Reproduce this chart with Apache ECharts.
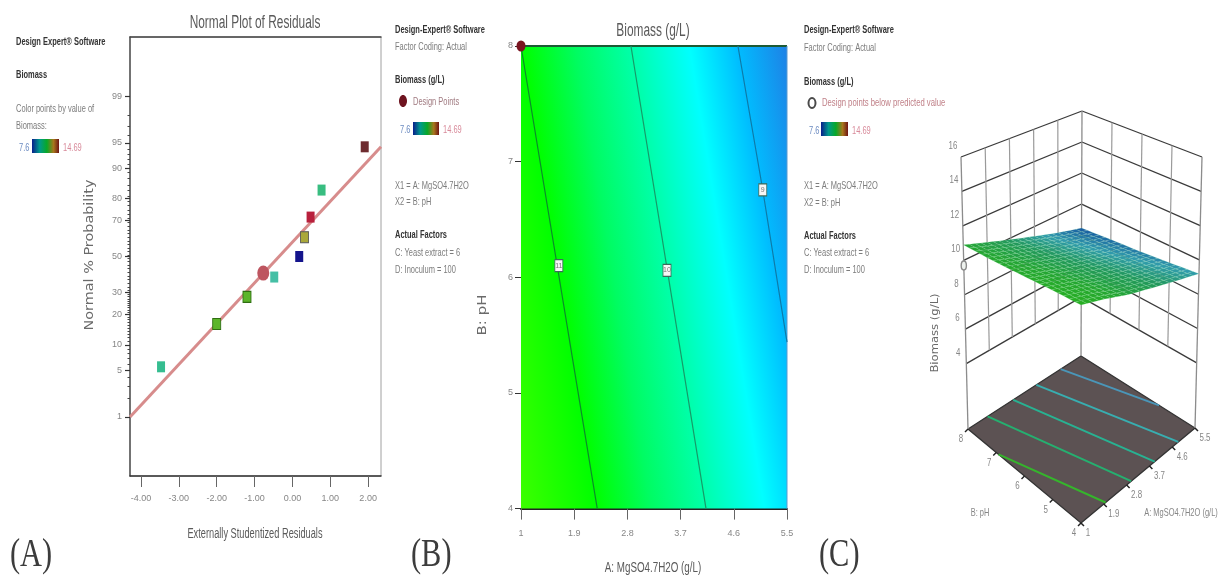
<!DOCTYPE html>
<html><head><meta charset="utf-8">
<style>html,body{margin:0;padding:0;background:#fff}#c{width:1221px;height:581px}</style>
<script src="https://cdn.jsdelivr.net/npm/echarts@6/dist/echarts.min.js"></script>
</head><body><div id="c"></div>
<script>
// ---------- Panel A data ----------
const residuals   = [-3.47, -2.00, -1.20, -0.77, -0.48, 0.18, 0.32, 0.48, 0.77, 1.91];
const probability = [5.5, 16.4, 27.9, 40.5, 38.3, 50, 61, 71.6, 83.2, 94.4];
const residualColors = ['#35bd90','#5cb52a','#5cb52a','#be5560','#45bfa5','#14148c','#aaa83a','#b8203c','#38bd80','#6e2c30'];
const fitResiduals = [-4.29, 2.34];
const fitProbability = [1, 94.4];
const xTicksA = [-4, -3, -2, -1, 0, 1, 2];
const probTicks = [1, 5, 10, 20, 30, 50, 70, 80, 90, 95, 99];
const probMinor = [2,3,4,6,7,8,9,11,12,13,14,15,16,17,18,19,21,22,23,24,25,26,27,28,29,31,33,35,37,39,41,43,45,47,49,51,53,55,57,59,61,63,65,67,69,71,73,75,77,79,81,83,85,87,89,91,92,93,94,96,97,98];
// ---------- Panel B data ----------
const xTicksB = [1, 1.9, 2.8, 3.7, 4.6, 5.5];
const yTicksB = [4, 5, 6, 7, 8];
const contourB1 = [[1, 8], [2.29, 4]];
const contourB2 = [[2.86, 8], [4.13, 4]];
const contourB3 = [[4.67, 8], [5.09, 6.755], [5.5, 5.44]];
const contourMarks = [[1.64, 6.1, 11], [3.47, 6.06, 10], [5.09, 6.755, 9]];
const designPointB = [[1, 8]];
const fillAtPH4 = [1, 2.29, 3.2, 4.13, 5.12, 5.9, 6.76];
const fillColors = ['#3cff00','#00ff00','#00fc62','#00ffaa','#00ffff','#00beff','#1e82e6'];
// ---------- Panel C data ----------
const surfA = [1, 1.9, 2.8, 3.7, 4.6, 5.5];
const surfPH = [4, 5, 6, 7, 8];
const surfZ = [
  [11.8, 11.3, 10.7, 10.2, 9.7, 9.2],
  [11.6, 11.1, 10.5, 10.0, 9.5, 9.0],
  [11.35, 10.85, 10.3, 9.8, 9.3, 8.8],
  [11.1, 10.6, 10.1, 9.6, 9.1, 8.65],
  [10.9, 10.4, 9.9, 9.4, 8.9, 8.45]
];
const zTicksC = [4, 6, 8, 10, 12, 14, 16];
const floorContours = [
  [[1, 6.92], [1.97, 4]], [[1.78, 8], [2.98, 4]], [[2.8, 8], [3.91, 4]],
  [[3.72, 8], [4.84, 4]], [[4.69, 8], [5.5, 5.26]]
];
const floorContourColors = ['#35b52c','#25b070','#28b292','#38aeb0','#4a96b8'];
const designPointC = [1, 8, 9.7];

// ---------- Text ----------
const sans = '"Liberation Sans",Arial,sans-serif';
const dejavu = '"DejaVu Sans",sans-serif';
const serif = '"Liberation Serif",serif';
const infoX1 = 'X1 = A: MgSO4.7H2O', infoX2 = 'X2 = B: pH';
const hdr = 'Design-Expert® Software', coding = 'Factor Coding: Actual';
const gray = '#7c7c7c', dark = '#333';
function T(x, y, text, o) {
  o = o || {};
  return {type:'text', x, y, silent:true, z:20, scaleX:o.sx||0.68, scaleY:1, rotation:o.rot||0,
    style:{text, fill:o.fill||gray, align:o.align||'left', verticalAlign:'middle',
    font:(o.bold?'bold ':'')+(o.size||11)+'px '+(o.family||sans)}};
}
const B = (x,y,t)=>T(x,y,t,{bold:true,fill:dark,size:11,sx:0.68});
function colorbar(x,y,w,h){
  return {type:'rect', silent:true, z:20, shape:{x,y,width:w,height:h}, style:{fill:{type:'linear',x:0,y:0,x2:1,y2:0,colorStops:[
    {offset:0,color:'#0a1e8c'},{offset:.28,color:'#009a8c'},{offset:.55,color:'#08a828'},{offset:.8,color:'#a8761c'},{offset:1,color:'#6e1414'}]}}};
}
const titleStyle = {size:18,sx:0.66,fill:'#5a5a5a',align:'center'};
const graphicEls = [
  T(255,23,'Normal Plot of Residuals',titleStyle),
  T(653,31,'Biomass (g/L)',titleStyle),
  T(255,534,'Externally Studentized Residuals',{size:14,sx:0.66,fill:'#5a5a5a',align:'center'}),
  T(653,568,'A: MgSO4.7H2O (g/L)',{size:14,sx:0.7,fill:'#5a5a5a',align:'center'}),
  T(90,255,'Normal % Probability',{size:12,sx:1.2,fill:'#6a6a6a',align:'center',family:dejavu,rot:Math.PI/2}),
  T(483,315,'B: pH',{size:12,sx:1.25,fill:'#6a6a6a',align:'center',family:dejavu,rot:Math.PI/2}),
  T(935,333,'Biomass (g/L)',{size:10,sx:1.16,fill:'#6a6a6a',align:'center',family:dejavu,rot:Math.PI/2}),
  T(980,513,'B: pH',{align:'center',fill:'#868686'}),
  T(1181,513,'A: MgSO4.7H2O (g/L)',{align:'center',fill:'#868686'}),

  B(16,42,'Design Expert® Software'), B(16,75,'Biomass'),
  T(16,109,'Color points by value of'), T(16,126,'Biomass:'),
  T(19,148,'7.6',{fill:'#6a8ac0'}), colorbar(32,139,27,14), T(63,148,'14.69',{fill:'#d88a9a'}),

  B(395,30,hdr), T(395,47,coding), B(395,80,'Biomass (g/L)'),
  {type:'ellipse',silent:true,z:20,shape:{cx:403,cy:101,rx:4,ry:6},style:{fill:'#6e1420'}},
  T(413,102,'Design Points',{fill:'#a07a80'}),
  T(400,130,'7.6',{fill:'#6a8ac0'}), colorbar(413,122,26,13), T(443,130,'14.69',{fill:'#d88a9a'}),
  T(395,186,infoX1), T(395,202,infoX2), B(395,235,'Actual Factors'),
  T(395,253,'C: Yeast extract = 6'), T(395,270,'D: Inoculum = 100'),

  B(804,30,hdr), T(804,48,coding), B(804,82,'Biomass (g/L)'),
  {type:'ellipse',silent:true,z:20,shape:{cx:812,cy:103,rx:3.5,ry:5},style:{fill:'#fff',stroke:'#4a4a4a',lineWidth:2}},
  T(822,103,'Design points below predicted value',{fill:'#c08088',sx:0.7}),
  T(809,131,'7.6',{fill:'#6a8ac0'}), colorbar(821,122,27,14), T(852,131,'14.69',{fill:'#d88a9a'}),
  T(804,186,infoX1), T(804,203,infoX2), B(804,236,'Actual Factors'),
  T(804,253,'C: Yeast extract = 6'), T(804,270,'D: Inoculum = 100'),

  T(10,555,'(A)',{size:40,fill:'#3c3c3c',family:serif,sx:0.76}),
  T(411,555,'(B)',{size:40,fill:'#3c3c3c',family:serif,sx:0.76}),
  T(819,555,'(C)',{size:40,fill:'#3c3c3c',family:serif,sx:0.76}),
];

// ---------- Scales ----------
function probit(p){ // normal quantile of a percentage
  const x = 2*p/100-1, a = 0.147, l = Math.log(1-x*x), t = 2/(Math.PI*a)+l/2;
  return Math.SQRT2*Math.sign(x)*Math.sqrt(Math.sqrt(t*t-l/a)-t);
}
const zLim = 3.18;
// 3D view: bilinear between floor and top rhombi (view units of the hidden grid)
const zFloor = 0.2, zTop = 16;
const view = {
  floor:{F:[151,433],L:[38,339],R:[265,338],B:[151,266]},
  top:{F:[151,136],L:[31,67],R:[272,67],B:[152,21]}
};
function project(a,p,z){
  const u=(a-1)/4.5, v=(p-4)/4, w=(z-zFloor)/(zTop-zFloor);
  const bl=(q,i)=>(1-u)*(1-v)*q.F[i]+u*(1-v)*q.R[i]+(1-u)*v*q.L[i]+u*v*q.B[i];
  return [0,1].map(i=>bl(view.floor,i)*(1-w)+bl(view.top,i)*w);
}
function mix(c1,c2,t){return c1.map((c,i)=>Math.round(c+(c2[i]-c)*t));}
const zCols=[[8.45,[22,88,160]],[9.2,[48,155,172]],[10,[34,152,92]],[10.9,[36,165,50]],[11.8,[40,175,34]]];
function zColor(z){
  for(let i=1;i<zCols.length;i++) if(z<=zCols[i][0]){
    const t=Math.max(0,(z-zCols[i-1][0])/(zCols[i][0]-zCols[i-1][0]));
    return 'rgb('+mix(zCols[i-1][1],zCols[i][1],t).join(',')+')';
  }
  return 'rgb('+zCols[4][1].join(',')+')';
}
// wall lines
const wallLines=[];
zTicksC.forEach(z=>{
  wallLines.push({a:[1,8,z],b:[5.5,8,z],c:'#3a3a3a',w:1.3});
  wallLines.push({a:[5.5,8,z],b:[5.5,4,z],c:'#3a3a3a',w:1.3});
});
surfA.slice(1,-1).forEach(a=>wallLines.push({a:[a,8,4],b:[a,8,16],c:'#9a9a9a',w:1.2}));
[5,6,7].forEach(p=>wallLines.push({a:[5.5,p,4],b:[5.5,p,16],c:'#9a9a9a',w:1.2}));
[[1,8],[5.5,8],[5.5,4]].forEach(q=>wallLines.push({a:[q[0],q[1],zFloor],b:[q[0],q[1],16],c:'#8c8c8c',w:1.3}));
// surface cells
const cells=[];
surfPH.slice(0,-1).forEach((p,j)=>surfA.slice(0,-1).forEach((a,i)=>cells.push([i,j])));
const subA=4, subP=5;
// 3D text labels
const labels3D=[];
zTicksC.forEach(z=>labels3D.push({t:String(z),q:[1,8,z],dx:-8,dy:-11}));
[8,7,6,5,4].forEach(p=>labels3D.push({t:String(p),q:[1,p,zFloor],dx:-7,dy:10}));
xTicksB.forEach(a=>labels3D.push({t:String(a),q:[a,4,zFloor],dx:a===1?7:10,dy:10}));

const rowItems=list=>list.map((_,i)=>[i,0]);
function xy(api,q){const v=project(q[0],q[1],q[2]);return api.coord(v);}
const hiddenAxis=(min,max,idx,inv)=>({gridIndex:idx,type:'value',min,max,inverse:!!inv,show:false,splitLine:{show:false}});
const axisText={color:'#868686',fontFamily:sans,fontSize:9};

const option={
  animation:false,
  backgroundColor:'#fff',
  graphic:{elements:graphicEls},
  grid:[
    {left:130,top:37,width:251,height:439,show:true,borderColor:'#a0a0a0',borderWidth:1,backgroundColor:'#fff'},
    {left:521,top:46,width:266,height:462.6},
    {left:930,top:90,width:290,height:450}
  ],
  xAxis:[
    {gridIndex:0,type:'value',min:-4.29,max:2.34,splitLine:{show:false},
     axisLine:{onZero:false,lineStyle:{color:'#333',width:1.5}},
     axisTick:{length:11,lineStyle:{color:'#666'},customValues:xTicksA},
     axisLabel:{...axisText,margin:18,hideOverlap:false,customValues:xTicksA,formatter:v=>v.toFixed(2)}},
    {gridIndex:0,type:'value',position:'top',min:-4.29,max:2.34,splitLine:{show:false},
     axisLine:{onZero:false,lineStyle:{color:'#444',width:1.5}},axisTick:{show:false},axisLabel:{show:false}},
    {gridIndex:1,type:'value',min:1,max:5.5,splitLine:{show:false},
     axisLine:{onZero:false,lineStyle:{color:'#222',width:2}},
     axisTick:{length:11,lineStyle:{color:'#666'},customValues:xTicksB},
     axisLabel:{...axisText,margin:20,hideOverlap:false,customValues:xTicksB,formatter:v=>String(v)}},
    hiddenAxis(0,290,2)
  ],
  yAxis:[
    {gridIndex:0,type:'value',position:'left',min:-zLim,max:zLim,splitLine:{show:false},
     axisLine:{onZero:false,lineStyle:{color:'#555',width:1.5}},
     axisTick:{length:5,lineStyle:{color:'#333',width:1.2},customValues:probTicks.map(probit)},
     axisLabel:{...axisText,margin:8,hideOverlap:false,customValues:probTicks.map(probit),
       formatter:v=>String(probTicks.reduce((b,p)=>Math.abs(probit(p)-v)<Math.abs(probit(b)-v)?p:b,50))}},
    {gridIndex:0,type:'value',position:'left',min:-zLim,max:zLim,splitLine:{show:false},
     axisLine:{show:false,onZero:false},axisLabel:{show:false},
     axisTick:{length:2.5,lineStyle:{color:'#444'},customValues:probMinor.map(probit)}},
    {gridIndex:1,type:'value',min:4,max:8,splitLine:{show:false},
     axisLine:{onZero:false,lineStyle:{color:'#7fd07f',width:1}},
     axisTick:{length:6,lineStyle:{color:'#333'},customValues:yTicksB},
     axisLabel:{...axisText,margin:8,padding:[0,0,8,0],hideOverlap:false,customValues:yTicksB,formatter:v=>String(v)}},
    hiddenAxis(0,450,2,true)
  ],
  series:[
    // ---- A ----
    {type:'line',xAxisIndex:0,yAxisIndex:0,silent:true,symbol:'none',z:3,
     data:fitResiduals.map((x,i)=>[x,probit(fitProbability[i])]),
     lineStyle:{color:'#d78c8c',width:3}},
    {type:'scatter',xAxisIndex:0,yAxisIndex:0,silent:true,z:4,
     data:residuals.map((x,i)=>({value:[x,probit(probability[i])],
       symbolSize:i===3?[12,15]:[8,11],symbol:i===3?'circle':'rect',
       itemStyle:{color:residualColors[i],opacity:1,borderColor:(i===1||i===2)?'#2f6e12':(i===6?'#555':'rgba(0,0,0,0)'),borderWidth:1}}))},
    // ---- B ----
    {type:'custom',xAxisIndex:2,yAxisIndex:2,silent:true,z:1,clip:false,data:[[1,4]],
     renderItem(params,api){
       const tl=api.coord([1,8]),br=api.coord([5.5,4]);
       const s=api.coord([fillAtPH4[0],4]),e=api.coord([fillAtPH4[fillAtPH4.length-1],4]);
       const c0=api.coord(contourB2[0]),c1=api.coord(contourB2[1]);
       let nx=c1[1]-c0[1],ny=-(c1[0]-c0[0]);const len=Math.hypot(nx,ny);nx/=len;ny/=len;
       const L=(e[0]-s[0])*nx+(e[1]-s[1])*ny;
       const span=fillAtPH4[fillAtPH4.length-1]-fillAtPH4[0];
       return {type:'rect',shape:{x:tl[0],y:tl[1],width:br[0]-tl[0],height:br[1]-tl[1]},style:{
         fill:{type:'linear',global:true,x:s[0],y:s[1],x2:s[0]+nx*L,y2:s[1]+ny*L,
           colorStops:fillAtPH4.map((a,i)=>({offset:(a-fillAtPH4[0])/span,color:fillColors[i]}))},
       }};
     }},
    {type:'line',xAxisIndex:2,yAxisIndex:2,silent:true,symbol:'none',z:3,data:[[1,8],[5.5,8]],lineStyle:{color:'#1c5a34',width:2}},
    {type:'line',xAxisIndex:2,yAxisIndex:2,silent:true,symbol:'none',z:3,data:[[5.5,8],[5.5,4]],lineStyle:{color:'#5a9ad0',width:1}},
    ...[[contourB1,'#0b8c2a'],[contourB2,'#169a68'],[contourB3,'#0e7aa8']].map(c=>(
      {type:'line',xAxisIndex:2,yAxisIndex:2,silent:true,symbol:'none',z:4,data:c[0],lineStyle:{color:c[1],width:1.2}})),
    {type:'scatter',xAxisIndex:2,yAxisIndex:2,silent:true,z:5,symbol:'rect',symbolSize:[8,12],
     data:contourMarks,
     itemStyle:{color:'#f6f6f6',opacity:1,borderColor:'#3c6a5a',borderWidth:1},
     label:{show:true,position:'inside',formatter:p=>String(p.value[2]),fontSize:7,color:'#777',fontFamily:sans}},
    {type:'scatter',xAxisIndex:2,yAxisIndex:2,silent:true,z:6,symbol:'circle',symbolSize:[9,11],clip:false,
     data:designPointB,itemStyle:{color:'#7a1420',opacity:1}},
    // ---- C floor ----
    {type:'custom',xAxisIndex:3,yAxisIndex:3,silent:true,z:2,data:[[0,0]],
     renderItem(params,api){
       const pts=[[1,4],[5.5,4],[5.5,8],[1,8]].map(q=>xy(api,[q[0],q[1],zFloor]));
       const ticks=[];
       yTicksB.forEach(p=>{const a=xy(api,[1,p,zFloor]);ticks.push([a,[a[0]-3,a[1]+3]]);});
       xTicksB.forEach(v=>{const a=xy(api,[v,4,zFloor]);ticks.push([a,[a[0]+3,a[1]+3]]);});
       return {type:'group',children:[
         {type:'polygon',shape:{points:pts},style:{fill:'#5c5253',stroke:'#333',lineWidth:1.3}},
         ...ticks.map(t=>({type:'line',shape:{x1:t[0][0],y1:t[0][1],x2:t[1][0],y2:t[1][1]},style:{stroke:'#222',lineWidth:1.5}}))
       ]};
     }},
    // ---- C walls ----
    {type:'custom',xAxisIndex:3,yAxisIndex:3,silent:true,z:2,data:rowItems(wallLines),
     renderItem(params,api){
       const w=wallLines[params.dataIndex],a=xy(api,w.a),b=xy(api,w.b);
       return {type:'line',shape:{x1:a[0],y1:a[1],x2:b[0],y2:b[1]},style:{stroke:w.c,lineWidth:w.w}};
     }},
    // ---- C floor contours ----
    {type:'custom',xAxisIndex:3,yAxisIndex:3,silent:true,z:3,data:rowItems(floorContours),
     renderItem(params,api){
       const c=floorContours[params.dataIndex],a=xy(api,[c[0][0],c[0][1],zFloor]),b=xy(api,[c[1][0],c[1][1],zFloor]);
       return {type:'line',shape:{x1:a[0],y1:a[1],x2:b[0],y2:b[1]},style:{stroke:floorContourColors[params.dataIndex],lineWidth:2}};
     }},
    // ---- C response surface ----
    {type:'custom',xAxisIndex:3,yAxisIndex:3,silent:true,z:4,data:rowItems(cells),
     renderItem(params,api){
       const [i,j]=cells[params.dataIndex];
       const a0=surfA[i],a1=surfA[i+1],p0=surfPH[j],p1=surfPH[j+1];
       const zz=(s,t)=>(1-s)*(1-t)*surfZ[j][i]+s*(1-t)*surfZ[j][i+1]+(1-s)*t*surfZ[j+1][i]+s*t*surfZ[j+1][i+1];
       const at=(s,t)=>xy(api,[a0+(a1-a0)*s,p0+(p1-p0)*t,zz(s,t)]);
       const ch=[];
       for(let m=0;m<subA;m++)for(let n=0;n<subP;n++){
         const s0=m/subA,s1=(m+1)/subA,t0=n/subP,t1=(n+1)/subP;
         const col=zColor(zz((s0+s1)/2,(t0+t1)/2));
         ch.push({type:'polygon',shape:{points:[at(s0,t0),at(s1,t0),at(s1,t1),at(s0,t1)]},
           style:{fill:col,stroke:'rgba(170,240,185,0.3)',lineWidth:0.5}});
       }
       return {type:'group',children:ch};
     }},
    // ---- C design point and tick labels ----
    {type:'custom',xAxisIndex:3,yAxisIndex:3,silent:true,z:5,data:[[0,0]],
     renderItem(params,api){
       const d=xy(api,designPointC);
       return {type:'ellipse',shape:{cx:d[0],cy:d[1],rx:2.6,ry:4.5},style:{fill:'#eef2ee',stroke:'#8a8a8a',lineWidth:1.4}};
     }},
    {type:'custom',xAxisIndex:3,yAxisIndex:3,silent:true,z:6,data:rowItems(labels3D),
     renderItem(params,api){
       const l=labels3D[params.dataIndex],a=xy(api,l.q);
       return {type:'text',x:a[0]+l.dx,y:a[1]+l.dy,scaleX:0.72,style:{text:l.t,fill:'#868686',align:'center',verticalAlign:'middle',font:'11px '+sans}};
     }}
  ]
};
const chart=echarts.init(document.getElementById('c'),null,{renderer:'canvas'});
chart.setOption(option);
</script></body></html>
